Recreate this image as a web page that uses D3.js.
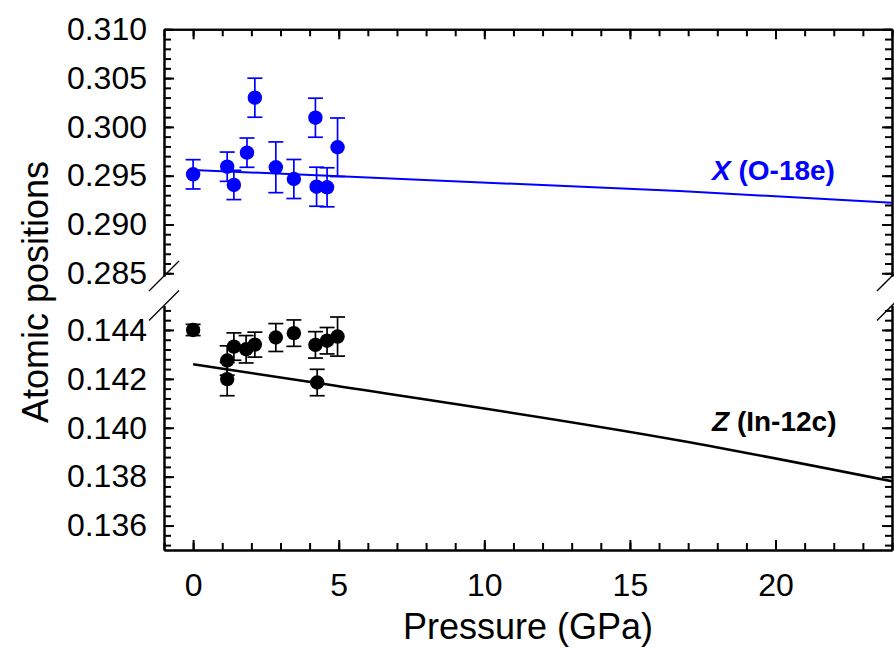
<!DOCTYPE html>
<html>
<head>
<meta charset="utf-8">
<script src="https://cdn.jsdelivr.net/npm/d3@7"></script>
<style>
  body { margin: 0; background: #fff; }
  svg text { font-family: "Liberation Sans", Arial, sans-serif; }
</style>
</head>
<body>
<div class="chart"></div>
<script>
// pressure (GPa) and atomic positions
var xPressure = [0, 1.17, 1.40, 1.85, 2.12, 2.84, 3.46, 4.20, 4.24, 4.60, 4.96];
var xValue = [0.29514, 0.29592, 0.29405, 0.29736, 0.30299, 0.29586, 0.29466, 0.30094, 0.29387, 0.29381, 0.29791];
var xError = [0.0015, 0.0015, 0.0015, 0.0015, 0.0020, 0.0026, 0.0020, 0.0020, 0.0020, 0.0020, 0.0030];

var zPressure = [0, 1.17, 1.17, 1.40, 1.82, 2.12, 2.84, 3.46, 4.20, 4.26, 4.60, 4.96];
var zValue = [0.14400, 0.14275, 0.14199, 0.14332, 0.14321, 0.14340, 0.14369, 0.14387, 0.14339, 0.14185, 0.14356, 0.14373];
var zError = [0.00023, 0.0006, 0.00068, 0.00056, 0.00056, 0.00051, 0.00057, 0.00054, 0.00054, 0.00054, 0.00054, 0.0008];

// fitted curves
var xFitP = [0, 16.7, 24];
var xFitV = [0.29559, 0.29343, 0.29223];
var zFitP = [0, 4.26, 16.7, 24];
var zFitV = [0.14260, 0.14183, 0.13948, 0.13781];

var xTicks = [0, 5, 10, 15, 20];
var topTicks = [0.285, 0.290, 0.295, 0.300, 0.305, 0.310];
var botTicks = [0.136, 0.138, 0.140, 0.142, 0.144];

var svgWidth = 894, svgHeight = 649;
var plotLeft = 164, plotRight = 892, plotTop = 29.3, plotBottom = 550;
var topPanelEnd = 276, botPanelStart = 305.5;

var svg = d3.select(".chart").append("svg")
  .attr("width", svgWidth).attr("height", svgHeight);

var x = d3.scaleLinear().domain([-1, 24]).range([plotLeft, plotRight]);
var yTop = d3.scaleLinear().domain([0.28472, 0.310]).range([topPanelEnd, plotTop]);
var yBot = d3.scaleLinear().domain([0.135, 0.145]).range([plotBottom, botPanelStart]);

function styleAxis(g) {
  g.select(".domain").attr("stroke", "#000").attr("stroke-width", 2);
  g.selectAll(".tick line").attr("stroke", "#000").attr("stroke-width", 2);
  g.selectAll(".tick text").attr("font-size", 32).attr("fill", "#000");
}

// x axes (bottom with labels, top mirrored)
svg.append("g").attr("transform", "translate(0," + plotBottom + ")")
  .call(d3.axisBottom(x).tickValues(d3.range(-1, 25)).tickSize(-7).tickSizeOuter(0).tickFormat(""))
  .call(styleAxis);
svg.append("g").attr("transform", "translate(0," + plotBottom + ")")
  .call(d3.axisBottom(x).tickValues(xTicks).tickSize(-10).tickSizeOuter(0).tickPadding(23))
  .call(styleAxis);
svg.append("g").attr("transform", "translate(0," + plotTop + ")")
  .call(d3.axisTop(x).tickValues(d3.range(-1, 25)).tickSize(-7).tickSizeOuter(0).tickFormat(""))
  .call(styleAxis);
svg.append("g").attr("transform", "translate(0," + plotTop + ")")
  .call(d3.axisTop(x).tickValues(xTicks).tickSize(-10).tickSizeOuter(0).tickFormat(""))
  .call(styleAxis);

// y axes, both panels, left and right
function yAxes(scale, majors, minorStep) {
  var d = scale.domain();
  var minors = d3.range(Math.ceil(d[0] / minorStep - 1e-6), Math.floor(d[1] / minorStep + 1e-6) + 1)
    .map(function(i) { return i * minorStep; });
  svg.append("g").attr("transform", "translate(" + plotLeft + ",0)")
    .call(d3.axisLeft(scale).tickValues(minors).tickSize(-7).tickSizeOuter(0).tickFormat(""))
    .call(styleAxis);
  svg.append("g").attr("transform", "translate(" + plotLeft + ",0)")
    .call(d3.axisLeft(scale).tickValues(majors).tickSize(-10).tickSizeOuter(0).tickPadding(17).tickFormat(d3.format(".3f")))
    .call(styleAxis);
  svg.append("g").attr("transform", "translate(" + plotRight + ",0)")
    .call(d3.axisRight(scale).tickValues(minors).tickSize(-7).tickSizeOuter(0).tickFormat(""))
    .call(styleAxis);
  svg.append("g").attr("transform", "translate(" + plotRight + ",0)")
    .call(d3.axisRight(scale).tickValues(majors).tickSize(-10).tickSizeOuter(0).tickFormat(""))
    .call(styleAxis);
}
yAxes(yTop, topTicks, 0.001);
yAxes(yBot, botTicks, 0.0004);

// axis break marks
[plotLeft, plotRight].forEach(function(bx) {
  [topPanelEnd, botPanelStart].forEach(function(by) {
    svg.append("line")
      .attr("x1", bx - 15).attr("y1", by + 15)
      .attr("x2", bx + 15).attr("y2", by - 15)
      .attr("stroke", "#000").attr("stroke-width", 1.3);
  });
});

// fitted lines
var fitLine = function(scale) {
  return d3.line().curve(d3.curveMonotoneX)
    .x(function(d) { return x(d[0]); }).y(function(d) { return scale(d[1]); });
};
svg.append("path")
  .datum(xFitP.map(function(p, i) { return [p, xFitV[i]]; }))
  .attr("d", fitLine(yTop)).attr("fill", "none").attr("stroke", "#0000ff").attr("stroke-width", 2);
svg.append("path")
  .datum(zFitP.map(function(p, i) { return [p, zFitV[i]]; }))
  .attr("d", fitLine(yBot)).attr("fill", "none").attr("stroke", "#000").attr("stroke-width", 2.5);

// points with error bars
function drawSeries(ps, vs, es, scale, color) {
  var data = ps.map(function(p, i) { return { p: p, v: vs[i], e: es[i] }; });
  var g = svg.append("g");
  var eb = g.selectAll(".eb").data(data).enter().append("g")
    .attr("stroke", color).attr("stroke-width", 1.7);
  eb.append("line")
    .attr("x1", function(d) { return x(d.p); }).attr("x2", function(d) { return x(d.p); })
    .attr("y1", function(d) { return scale(d.v - d.e); }).attr("y2", function(d) { return scale(d.v + d.e); });
  [-1, 1].forEach(function(s) {
    eb.append("line")
      .attr("x1", function(d) { return x(d.p) - 7.5; }).attr("x2", function(d) { return x(d.p) + 7.5; })
      .attr("y1", function(d) { return scale(d.v + s * d.e); }).attr("y2", function(d) { return scale(d.v + s * d.e); });
  });
  g.selectAll("circle").data(data).enter().append("circle")
    .attr("cx", function(d) { return x(d.p); })
    .attr("cy", function(d) { return scale(d.v); })
    .attr("r", 7.2).attr("fill", color);
}
drawSeries(xPressure, xValue, xError, yTop, "#0000ff");
drawSeries(zPressure, zValue, zError, yBot, "#000");

// series labels
var lx = svg.append("text").attr("x", 712).attr("y", 180)
  .attr("font-size", 28).attr("font-weight", "bold").attr("fill", "#0000ff");
lx.append("tspan").attr("font-style", "italic").text("X");
lx.append("tspan").text(" (O-18e)");
var lz = svg.append("text").attr("x", 712).attr("y", 431)
  .attr("font-size", 28).attr("font-weight", "bold").attr("fill", "#000");
lz.append("tspan").attr("font-style", "italic").text("Z");
lz.append("tspan").text(" (In-12c)");

// axis titles
svg.append("text")
  .attr("x", (plotLeft + plotRight) / 2).attr("y", 639)
  .attr("text-anchor", "middle").attr("font-size", 36)
  .text("Pressure (GPa)");
svg.append("text")
  .attr("transform", "translate(48," + 292 + ") rotate(-90)")
  .attr("text-anchor", "middle").attr("font-size", 36)
  .text("Atomic positions");
</script>
</body>
</html>
